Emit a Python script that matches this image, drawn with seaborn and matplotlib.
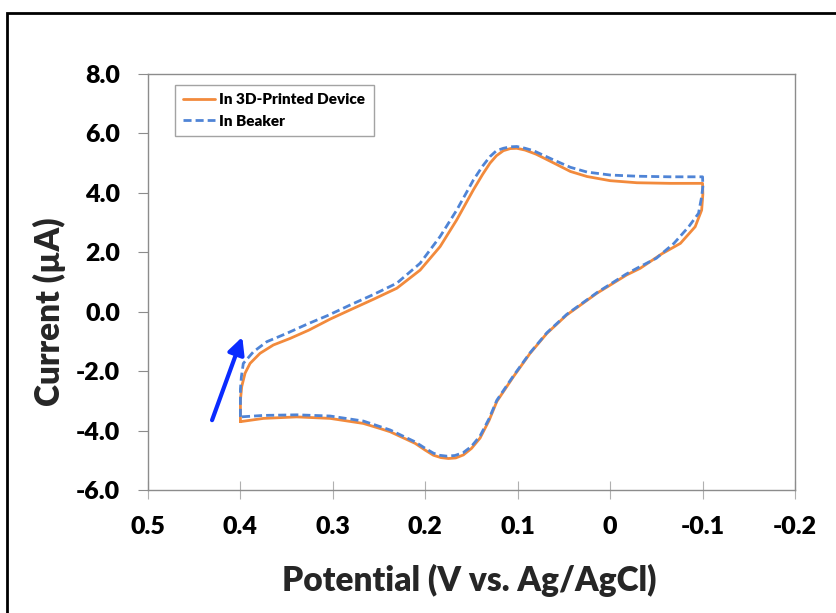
import matplotlib
matplotlib.use("Agg")
import matplotlib.pyplot as plt
import matplotlib.patches as mpatches
import seaborn as sns
import pandas as pd

# ---- data ----
device_potential = [0.400, 0.400, 0.3986, 0.395, 0.3896, 0.3788, 0.3644, 0.3463, 0.326, 0.303,
                    0.2814, 0.256, 0.2308, 0.2056, 0.184, 0.166, 0.148, 0.138, 0.130, 0.123,
                    0.1155, 0.108, 0.101, 0.092,
                    0.080, 0.062, 0.043, 0.025, 0.000, -0.029, -0.065, -0.100,
                    -0.1003, -0.099, -0.092, -0.076, -0.056, -0.0325, -0.018, 0.0144, 0.047,
                    0.0685, 0.0866, 0.1047, 0.1226, 0.131, 0.1407, 0.150, 0.1588, 0.167,
                    0.175, 0.183, 0.1912, 0.200, 0.211,
                    0.238, 0.249, 0.267, 0.303, 0.339, 0.375, 0.400]
device_current = [-3.70, -2.97, -2.52, -2.07, -1.74, -1.40, -1.12, -0.90, -0.62, -0.25,
                  0.06, 0.42, 0.79, 1.40, 2.19, 3.09, 4.10, 4.62, 5.00, 5.25,
                  5.42, 5.49, 5.50, 5.44,
                  5.30, 5.02, 4.72, 4.55, 4.41, 4.34, 4.32, 4.32,
                  3.95, 3.42, 2.86, 2.30, 1.95, 1.46, 1.24, 0.62, -0.11,
                  -0.73, -1.40, -2.19, -3.02, -3.66, -4.25, -4.60, -4.82, -4.92,
                  -4.94, -4.91, -4.83, -4.66, -4.43,
                  -4.04, -3.93, -3.76, -3.59, -3.54, -3.59, -3.70]

beaker_potential = [0.400, 0.400, 0.399, 0.3969, 0.386, 0.3715, 0.350, 0.328, 0.305, 0.281,
                    0.256, 0.2308, 0.2056, 0.184, 0.166, 0.148, 0.138, 0.130, 0.123, 0.1155,
                    0.108, 0.101, 0.092, 0.083,
                    0.062, 0.043, 0.025, 0.000, -0.029, -0.065, -0.100,
                    -0.1003, -0.099, -0.0956, -0.085, -0.069, -0.050, -0.030, -0.017, 0.0144,
                    0.047, 0.0685, 0.0866, 0.1047, 0.1226, 0.131, 0.1407, 0.150, 0.1588,
                    0.168, 0.177, 0.185, 0.1912, 0.200,
                    0.211, 0.238, 0.267, 0.303, 0.339, 0.375, 0.400]
beaker_current = [-3.54, -2.60, -2.20, -1.74, -1.35, -1.01, -0.73, -0.42, -0.12, 0.23,
                  0.58, 0.96, 1.63, 2.53, 3.42, 4.43, 4.90, 5.22, 5.42, 5.50,
                  5.55, 5.56, 5.50, 5.42,
                  5.12, 4.86, 4.70, 4.60, 4.56, 4.54, 4.54,
                  4.21, 3.87, 3.31, 2.86, 2.30, 1.80, 1.48, 1.26, 0.64,
                  -0.09, -0.71, -1.38, -2.16, -2.98, -3.60, -4.18, -4.53, -4.74,
                  -4.84, -4.86, -4.83, -4.76, -4.60,
                  -4.38, -3.98, -3.68, -3.51, -3.47, -3.49, -3.54]

series_names = ["In 3D-Printed Device", "In Beaker"]
x_ticks = [0.5, 0.4, 0.3, 0.2, 0.1, 0.0, -0.1, -0.2]
x_tick_labels = ["0.5", "0.4", "0.3", "0.2", "0.1", "0", "-0.1", "-0.2"]
y_ticks = [8.0, 6.0, 4.0, 2.0, 0.0, -2.0, -4.0, -6.0]
y_tick_labels = ["8.0", "6.0", "4.0", "2.0", "0.0", "-2.0", "-4.0", "-6.0"]
arrow_start = (0.4307, -3.65)
arrow_end = (0.398, -0.85)

# ---- style ----
sns.set_style("white")
plt.rcParams["font.family"] = ["Lato", "DejaVu Sans"]
plt.rcParams["axes.unicode_minus"] = False
WEIGHT = "heavy"

W, H = 836, 613
fig = plt.figure(figsize=(W / 100, H / 100), dpi=100)
ax = fig.add_axes([148 / W, 1 - 490 / H, (795 - 148) / W, (490 - 74) / H])

df_dev = pd.DataFrame({"Potential": device_potential, "Current": device_current})
df_bk = pd.DataFrame({"Potential": beaker_potential, "Current": beaker_current})

orange = "#F28A3C"
blue = "#4F84D6"
sns.lineplot(data=df_dev, x="Potential", y="Current", sort=False, estimator=None,
             ax=ax, color=orange, linewidth=2.0, label=series_names[0])
sns.lineplot(data=df_bk, x="Potential", y="Current", sort=False, estimator=None,
             ax=ax, color=blue, linewidth=2.0, label=series_names[1])
ax.lines[1].set_linestyle((0, (2.9, 1.45)))
for ln in ax.lines:
    ln.set_solid_joinstyle("round")
    ln.set_dash_joinstyle("round")

ax.set_xlim(0.5, -0.2)
ax.set_ylim(-6.0, 8.0)
ax.set_xticks(x_ticks)
ax.set_xticklabels(x_tick_labels, fontsize=18, fontweight=WEIGHT)
ax.set_yticks(y_ticks)
ax.set_yticklabels(y_tick_labels, fontsize=18, fontweight=WEIGHT)
ax.set_xlabel("")
ax.set_ylabel("")

for s in ax.spines.values():
    s.set_color("#8c8c8c")
    s.set_linewidth(1.0)
ax.tick_params(axis="y", direction="out", length=7, width=0.8, color="#8c8c8c",
               pad=13, left=True)
ax.tick_params(axis="x", direction="inout", length=13, width=0.8, color="#b0b0b0",
               pad=12.5, bottom=True)
for lab in ax.get_xticklabels() + ax.get_yticklabels():
    lab.set_color("black")

ax.annotate("", xy=arrow_end, xytext=arrow_start,
            arrowprops=dict(arrowstyle="-|>,head_length=1.0,head_width=0.5",
                            color="#0A2BFF", lw=3.0, shrinkA=0, shrinkB=0))

leg = ax.legend(loc="upper left", bbox_to_anchor=((175 - 148) / 647, (490 - 85) / 416),
                frameon=True, fancybox=False, prop={"weight": WEIGHT, "size": 11},
                handlelength=2.1, handletextpad=0.25, borderpad=0.55, labelspacing=0.55,
                borderaxespad=0)
leg.get_frame().set_edgecolor("#8c8c8c")
leg.get_frame().set_linewidth(1.0)
for t in leg.get_texts():
    t.set_color("black")

fig.text(49 / W, 1 - 312 / H, "Current (µA)", rotation=90, ha="center", va="center",
         fontsize=24, fontweight=WEIGHT)
fig.text(469 / W, 1 - 580 / H, "Potential (V vs. Ag/AgCl)", ha="center", va="center",
         fontsize=24, fontweight=WEIGHT)

border = mpatches.Rectangle((7 / W, -0.1), 1.2, 1 - 13 / H + 0.1, transform=fig.transFigure,
                            fill=False, edgecolor="black", linewidth=2.0, clip_on=False)
fig.patches.append(border)

fig.savefig("out.png", dpi=100, facecolor="white")
